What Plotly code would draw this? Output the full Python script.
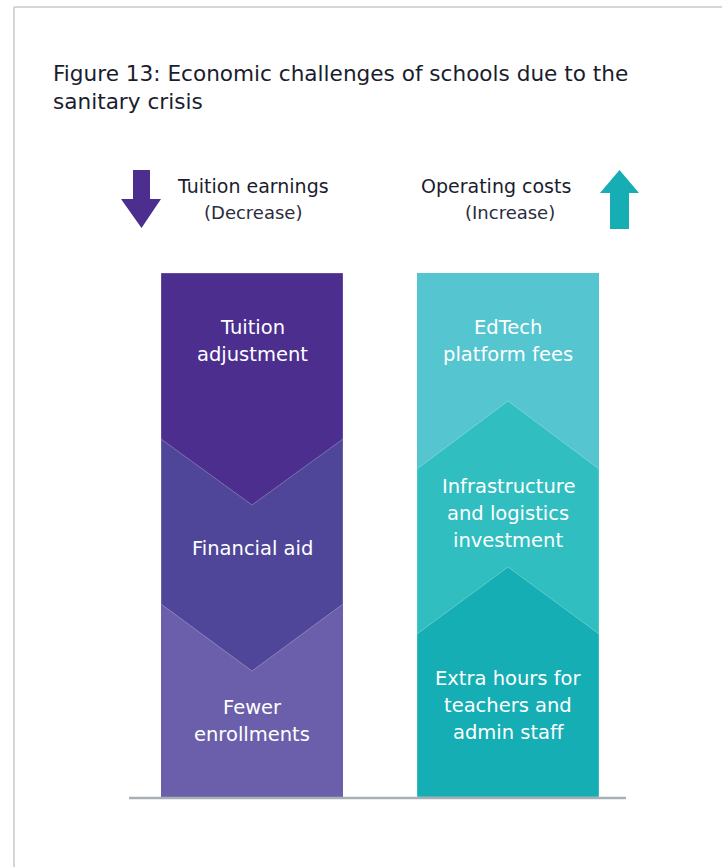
import plotly.graph_objects as go

# Text content
title_lines = ["Figure 13: Economic challenges of schools due to the", "sanitary crisis"]
left_header = ["Tuition earnings", "(Decrease)"]
right_header = ["Operating costs", "(Increase)"]
left_labels = [["Tuition", "adjustment"], ["Financial aid"], ["Fewer", "enrollments"]]
right_labels = [["EdTech", "platform fees"],
                ["Infrastructure", "and logistics", "investment"],
                ["Extra hours for", "teachers and", "admin staff"]]

# Segment colours (top -> bottom)
left_colors = ["#4b2e8e", "#4f4699", "#6b5fab"]
right_colors = ["#55c5d0", "#30bec0", "#15aeb4"]
arrow_down_color = "#4b2e8e"
arrow_up_color = "#16aeb4"

W, H = 722, 867
FONT = "DejaVu Sans"
DARK = "#1a1d2e"

fig = go.Figure()
shapes = []
ann = []

def poly(pts, color, line=None):
    d = "M " + " L ".join(f"{x},{y}" for x, y in pts) + " Z"
    shapes.append(dict(type="path", path=d, fillcolor=color,
                       line=line or dict(width=0), layer="below"))

def text(x, y, s, size, color, xanchor="center"):
    ann.append(dict(x=x, y=y, text=s, showarrow=False, xanchor=xanchor,
                    yanchor="middle", font=dict(family=FONT, size=size, color=color)))

# Frame lines
shapes.append(dict(type="line", x0=14, y0=7, x1=W, y1=7, line=dict(color="#c9c9c9", width=1.5)))
shapes.append(dict(type="line", x0=14, y0=7, x1=14, y1=H, line=dict(color="#c9c9c9", width=1.5)))

# Title
for i, s in enumerate(title_lines):
    text(51, 73 + 28 * i, s, 21.6, DARK, xanchor="left")

# Column geometry
top, bottom = 273, 797
lx0, lx1 = 161, 343
rx0, rx1 = 417, 599
lmid = (lx0 + lx1) / 2
rmid = (rx0 + rx1) / 2
edge = dict(color="rgba(255,255,255,0.35)", width=0.8)

# Left column: chevrons pointing down
poly([(lx0, top), (lx1, top), (lx1, bottom), (lx0, bottom)], left_colors[2])
poly([(lx0, top), (lx1, top), (lx1, 604), (lmid, 671), (lx0, 604)], left_colors[1], edge)
poly([(lx0, top), (lx1, top), (lx1, 439), (lmid, 505), (lx0, 439)], left_colors[0], edge)

# Right column: chevrons pointing up
poly([(rx0, top), (rx1, top), (rx1, bottom), (rx0, bottom)], right_colors[0])
poly([(rx0, 469), (rmid, 401), (rx1, 469), (rx1, bottom), (rx0, bottom)], right_colors[1], edge)
poly([(rx0, 634), (rmid, 567), (rx1, 634), (rx1, bottom), (rx0, bottom)], right_colors[2], edge)

# Baseline
shapes.append(dict(type="line", x0=129, y0=798, x1=626, y1=798,
                   line=dict(color="#a9aeb3", width=2.5), layer="above"))

# Direction arrows
poly([(133, 170), (150, 170), (150, 199), (161, 199), (141.5, 228), (121, 199), (133, 199)],
     arrow_down_color)
poly([(610, 229), (629, 229), (629, 193), (639, 193), (619.5, 170), (600, 193), (610, 193)],
     arrow_up_color)

# Headers
text(253, 186, left_header[0], 19, DARK)
text(253, 212, left_header[1], 18, "#2a2d3c")
text(496, 186, right_header[0], 19, DARK)
text(510, 212, right_header[1], 18, "#2a2d3c")

# Segment labels
left_centers = [341, 548, 721]
right_centers = [341, 513, 705]
for lines, cy in zip(left_labels, left_centers):
    n = len(lines)
    for i, s in enumerate(lines):
        text(lmid, cy + (i - (n - 1) / 2) * 27, s, 19.5, "white")
for lines, cy in zip(right_labels, right_centers):
    n = len(lines)
    for i, s in enumerate(lines):
        text(rmid, cy + (i - (n - 1) / 2) * 27, s, 19.5, "white")

fig.update_layout(
    width=W, height=H, margin=dict(l=0, r=0, t=0, b=0),
    paper_bgcolor="white", plot_bgcolor="white",
    xaxis=dict(range=[0, W], visible=False, fixedrange=True),
    yaxis=dict(range=[H, 0], visible=False, fixedrange=True),
    shapes=shapes, annotations=ann, showlegend=False,
)

fig.write_html("out.html")
